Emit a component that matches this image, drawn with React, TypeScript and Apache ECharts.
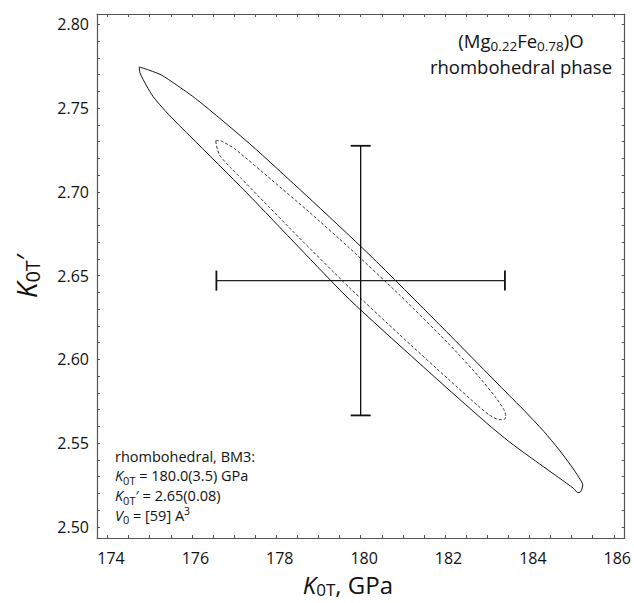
import React, { useEffect, useRef } from "react";
import * as echarts from "echarts";

// ---- axis ticks ----
const xTickLabels = [174, 176, 178, 180, 182, 184, 186];
const xMinorTicks = [174, 174.5, 175, 175.5, 176, 176.5, 177, 177.5, 178, 178.5, 179, 179.5, 180, 180.5, 181, 181.5, 182, 182.5, 183, 183.5, 184, 184.5, 185, 185.5, 186];
const yTickLabels = [2.5, 2.55, 2.6, 2.65, 2.7, 2.75, 2.8];
const yMinorTicks = [2.5, 2.51, 2.52, 2.53, 2.54, 2.55, 2.56, 2.57, 2.58, 2.59, 2.6, 2.61, 2.62, 2.63, 2.64, 2.65, 2.66, 2.67, 2.68, 2.69, 2.7, 2.71, 2.72, 2.73, 2.74, 2.75, 2.76, 2.77, 2.78, 2.79, 2.8];
const xRange = [173.75, 186.26];
const yRange = [2.4933, 2.8062];

// ---- outer confidence contour (solid) ----
const outerContour = [
  [174.752, 2.7746], [175.005, 2.7725], [175.281, 2.7697], [175.596, 2.7645], [176.139, 2.7547],
  [177.369, 2.7287], [178.709, 2.6979], [180.206, 2.6625], [181.861, 2.6209], [183.515, 2.5786],
  [183.87, 2.5696], [184.343, 2.5569], [184.697, 2.5462], [184.981, 2.5367], [185.17, 2.5296],
  [185.265, 2.5249], [185.241, 2.5225], [185.206, 2.5207], [185.147, 2.5204], [185.052, 2.5228],
  [184.697, 2.5293], [183.988, 2.5421], [183.515, 2.5509], [183.043, 2.5607], [182.333, 2.5764],
  [181.388, 2.5977], [179.733, 2.6358], [178.551, 2.6665], [177.291, 2.6996], [175.95, 2.7334],
  [175.596, 2.7423], [175.288, 2.7506], [175.083, 2.7568], [174.927, 2.7632], [174.768, 2.7711],
  [174.752, 2.7746],
];

// ---- inner confidence contour (dashed) ----
const innerContour = [
  [176.565, 2.7307], [176.707, 2.7302], [177.014, 2.7257], [177.882, 2.7073], [178.787, 2.6878],
  [179.733, 2.6665], [180.915, 2.6386], [182.097, 2.609], [182.806, 2.5895], [183.208, 2.577],
  [183.397, 2.5699], [183.444, 2.5658], [183.397, 2.564], [183.279, 2.564], [183.043, 2.5669],
  [182.806, 2.5717], [182.097, 2.5877], [180.915, 2.6149], [179.733, 2.6428], [178.551, 2.6724],
  [177.605, 2.6967], [177.173, 2.7079], [176.896, 2.715], [176.66, 2.7217], [176.582, 2.7275],
  [176.565, 2.7307],
];

// ---- best fit with uncertainties ----
const bestK0T = [180.0];
const bestK0Tp = [2.647];
const errK0T = [3.42];
const errK0Tp = [0.0805];

// ---- annotation texts ----
const titleLines = ["{a|(Mg}{s|0.22}{a|Fe}{s|0.78}{a|)O}", "{a|rhombohedral phase}"];
const fitLines = [
  "{t|rhombohedral, BM3:}",
  "{i|K}{s|0T}{t| = 180.0(3.5) GPa}",
  "{i|K}{s|0T}{t|′ = 2.65(0.08)}",
  "{i|V}{s|0}{t| = [59] A}{p|3}",
];

const FONT = "'Open Sans', 'Noto Sans', sans-serif";
const AXIS_COLOR = "#555";

export default function App() {
  const ref = useRef<HTMLDivElement>(null);
  useEffect(() => {
    if (!ref.current) return;
    const chart = echarts.init(ref.current, undefined, { renderer: "svg" });
    const axisLine = { show: true, onZero: false, lineStyle: { color: AXIS_COLOR, width: 1.2 } };
    const tickStyle = { color: AXIS_COLOR, width: 1 };
    const errData = bestK0T.map((v, i) => [v, bestK0Tp[i], errK0T[i], errK0Tp[i]]);

    const titleRich = {
      a: { fontFamily: FONT, fontSize: 18.5, fill: "#111", color: "#111", lineHeight: 25.5 },
      s: { fontFamily: FONT, fontSize: 13.5, fill: "#111", color: "#111", lineHeight: 10, verticalAlign: "bottom" },
    };
    const fitRich = {
      t: { fontFamily: FONT, fontSize: 14.5, fill: "#111", color: "#111", lineHeight: 19.8 },
      i: { fontFamily: FONT, fontSize: 14.5, fontStyle: "italic", fill: "#111", color: "#111", lineHeight: 19.8 },
      s: { fontFamily: FONT, fontSize: 11, fill: "#111", color: "#111", lineHeight: 9, verticalAlign: "bottom" },
      p: { fontFamily: FONT, fontSize: 10.5, fill: "#111", color: "#111", lineHeight: 9, verticalAlign: "top" },
    };

    const graphics: any[] = [];
    titleLines.forEach((txt, i) => {
      graphics.push({
        type: "text",
        x: 521,
        y: 40 + i * 26,
        z: 10,
        style: {
          text: txt,
          align: "center",
          textAlign: "center",
          verticalAlign: "middle",
          fill: "#111",
          rich: titleRich,
        },
      });
    });
    fitLines.forEach((txt, i) => {
      graphics.push({
        type: "text",
        x: 115,
        y: 456 + i * 19.8,
        z: 10,
        style: {
          text: txt,
          align: "left",
          textAlign: "left",
          verticalAlign: "middle",
          fill: "#111",
          rich: fitRich,
        },
      });
    });

    chart.setOption({
      animation: false,
      backgroundColor: "#fff",
      grid: { left: 97, right: 8, top: 14, bottom: 61, containLabel: false },
      xAxis: [
        {
          type: "value",
          position: "bottom",
          min: xRange[0],
          max: xRange[1],
          axisLine,
          axisTick: { show: true, inside: true, length: 3, customValues: xMinorTicks, lineStyle: tickStyle },
          axisLabel: {
            customValues: xTickLabels,
            fontSize: 16,
            fontFamily: FONT,
            color: "#111",
            margin: 12,
            padding: [0, 0, 0, 7],
          },
          splitLine: { show: false },
          name: "{i|K}{s|0T}{t|, GPa}",
          nameLocation: "middle",
          nameGap: 32,
          nameTextStyle: {
            fontFamily: FONT,
            fontSize: 24,
            color: "#111",
            padding: [0, 26, 0, 0],
            rich: {
              i: { fontFamily: FONT, fontSize: 24, fontStyle: "italic", color: "#111", lineHeight: 28 },
              s: { fontFamily: FONT, fontSize: 17, color: "#111", lineHeight: 10, verticalAlign: "bottom" },
              t: { fontFamily: FONT, fontSize: 24, color: "#111", lineHeight: 28 },
            },
          },
        },
        {
          type: "value",
          position: "top",
          min: xRange[0],
          max: xRange[1],
          axisLine,
          axisTick: { show: true, inside: true, length: 3, customValues: xMinorTicks, lineStyle: tickStyle },
          axisLabel: { show: false },
          splitLine: { show: false },
        },
      ],
      yAxis: [
        {
          type: "value",
          position: "left",
          min: yRange[0],
          max: yRange[1],
          axisLine,
          axisTick: { show: true, inside: true, length: 3, customValues: yMinorTicks, lineStyle: tickStyle },
          axisLabel: {
            customValues: yTickLabels,
            formatter: (v: number) => v.toFixed(2),
            fontSize: 16,
            fontFamily: FONT,
            color: "#111",
            margin: 8,
          },
          splitLine: { show: false },
          name: "{i|K}{s|0T}{t|′}",
          nameLocation: "middle",
          nameRotate: 90,
          nameGap: 55,
          nameTextStyle: {
            fontFamily: FONT,
            fontSize: 28,
            color: "#111",
            rich: {
              i: { fontFamily: FONT, fontSize: 28, fontStyle: "italic", color: "#111", lineHeight: 32 },
              s: { fontFamily: FONT, fontSize: 20, color: "#111", lineHeight: 12, verticalAlign: "bottom" },
              t: { fontFamily: FONT, fontSize: 28, color: "#111", lineHeight: 32 },
            },
          },
        },
        {
          type: "value",
          position: "right",
          min: yRange[0],
          max: yRange[1],
          axisLine,
          axisTick: { show: true, inside: true, length: 3, customValues: yMinorTicks, lineStyle: tickStyle },
          axisLabel: { show: false },
          splitLine: { show: false },
        },
      ],
      series: [
        {
          type: "line",
          name: "outer",
          data: outerContour,
          showSymbol: false,
          smooth: 0.25,
          lineStyle: { color: "#111", width: 1 },
          z: 2,
        },
        {
          type: "line",
          name: "inner",
          data: innerContour,
          showSymbol: false,
          smooth: 0.2,
          lineStyle: { color: "#333", width: 1, type: [3, 2] },
          z: 2,
        },
        {
          type: "custom",
          name: "best fit",
          data: errData,
          encode: { x: 0, y: 1 },
          z: 3,
          renderItem: (_params: any, api: any) => {
            const cx = api.value(0);
            const cy = api.value(1);
            const ex = api.value(2);
            const ey = api.value(3);
            const l = api.coord([cx - ex, cy]);
            const r = api.coord([cx + ex, cy]);
            const t = api.coord([cx, cy + ey]);
            const b = api.coord([cx, cy - ey]);
            const cap = 10;
            const s = { stroke: "#222", lineWidth: 1.3 };
            const cs = { stroke: "#111", lineWidth: 1.8 };
            return {
              type: "group",
              children: [
                { type: "line", shape: { x1: l[0], y1: l[1], x2: r[0], y2: r[1] }, style: s },
                { type: "line", shape: { x1: l[0], y1: l[1] - cap, x2: l[0], y2: l[1] + cap }, style: cs },
                { type: "line", shape: { x1: r[0], y1: r[1] - cap, x2: r[0], y2: r[1] + cap }, style: cs },
                { type: "line", shape: { x1: t[0], y1: t[1], x2: b[0], y2: b[1] }, style: { stroke: "#111", lineWidth: 1.3 } },
                { type: "line", shape: { x1: t[0] - cap, y1: t[1], x2: t[0] + cap, y2: t[1] }, style: cs },
                { type: "line", shape: { x1: b[0] - cap, y1: b[1], x2: b[0] + cap, y2: b[1] }, style: cs },
              ],
            };
          },
        },
      ],
      graphic: graphics,
    });
    return () => chart.dispose();
  }, []);
  return (
    <div
      ref={ref}
      style={{ position: "fixed", left: 0, top: 0, width: 634, height: 603, background: "#fff" }}
    />
  );
}
